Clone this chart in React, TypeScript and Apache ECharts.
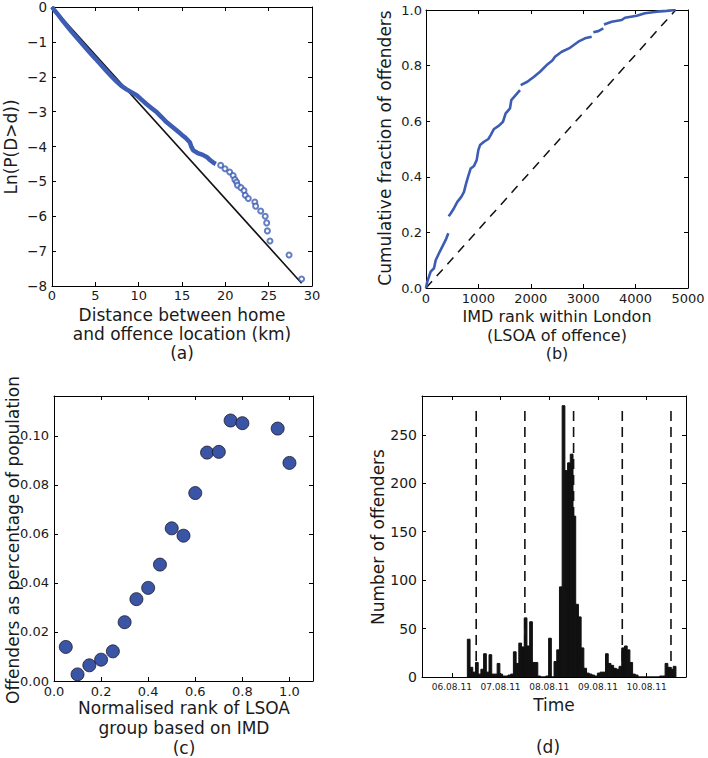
import React, { useEffect, useRef } from "react";
import * as echarts from "echarts";

// ---------- Panel (a): distance distribution ----------
const denseDistKm = [0, 0.3, 0.7, 1.1, 1.69, 2.3, 3.0, 3.6, 4.3, 5.0, 5.54, 6.2, 6.9, 7.46, 8.0, 8.6, 9.2, 9.77, 10.3, 10.9, 11.5, 12.1, 12.7, 13.2, 13.8, 14.4, 14.96, 15.4, 15.9, 16.1, 16.3, 16.9, 17.4, 17.85, 18.2, 18.6, 18.9];
const denseLnP = [0, -0.1, -0.22, -0.35, -0.53, -0.72, -0.92, -1.09, -1.29, -1.48, -1.63, -1.81, -2.0, -2.14, -2.26, -2.36, -2.45, -2.53, -2.65, -2.78, -2.9, -3.02, -3.17, -3.3, -3.42, -3.54, -3.66, -3.75, -3.88, -4.02, -4.11, -4.2, -4.24, -4.3, -4.38, -4.46, -4.5];
const tailDistKm = [19.46, 19.96, 20.5, 20.9, 21.1, 21.3, 21.4, 21.8, 22.15, 22.3, 22.65, 23.4, 23.5, 24.08, 24.6, 24.77, 24.85, 25.15, 27.35, 28.8];
const tailLnP = [-4.54, -4.64, -4.73, -4.83, -4.95, -5.02, -5.11, -5.18, -5.26, -5.4, -5.49, -5.59, -5.71, -5.85, -6.0, -6.19, -6.42, -6.71, -7.11, -7.8];
const fitKm = [0, 28.8];
const fitLnP = [0, -7.92];

// ---------- Panel (b): cumulative fraction vs IMD rank ----------
const imdRank = [0, 25, 57, 89, 153, 185, 248, 311, 376, 426,
  433, 471, 534, 598, 674, 725, 757, 802, 853, 916, 967, 999, 1031, 1107, 1190, 1234, 1298, 1393, 1469, 1520, 1603, 1628, 1711, 1794,
  1807, 1934, 2061, 2176, 2303, 2411, 2462, 2590, 2748, 2907, 3034, 3162,
  3193, 3288, 3384,
  3397, 3544, 3735, 3798, 4021, 4179, 4403, 4594, 4765];
const cumFrac = [0, 0.023, 0.041, 0.059, 0.071, 0.10, 0.125, 0.149, 0.173, 0.197,
  0.258, 0.268, 0.287, 0.31, 0.328, 0.346, 0.37, 0.40, 0.43, 0.439, 0.46, 0.496, 0.514, 0.526, 0.536, 0.55, 0.572, 0.584, 0.598, 0.628, 0.646, 0.676, 0.694, 0.712,
  0.730, 0.742, 0.760, 0.778, 0.802, 0.818, 0.832, 0.850, 0.864, 0.886, 0.898, 0.904,
  0.920, 0.924, 0.934,
  0.948, 0.958, 0.964, 0.972, 0.979, 0.988, 0.994, 0.997, 1.0];
const curveSegmentStarts = [433, 1807, 3193, 3397];
const totalLsoa = 4765;

// ---------- Panel (c): offenders vs normalised rank ----------
const rankGroup = [0.05, 0.10, 0.15, 0.20, 0.25, 0.30, 0.35, 0.40, 0.45, 0.50, 0.55, 0.60, 0.65, 0.70, 0.75, 0.80, 0.95, 1.00];
const offenderPct = [0.0139, 0.0027, 0.0064, 0.0087, 0.0121, 0.0240, 0.0334, 0.0380, 0.0475, 0.0623, 0.0593, 0.0767, 0.0932, 0.0935, 0.1063, 0.1052, 0.1030, 0.0890];

// ---------- Panel (d): offenders over time (hours since 06.08.11 00:00) ----------
const histStartHour = 19.65;
const histBinHours = 1.335;
const offenderCounts = [39, 10, 5, 15, 3, 8, 24, 5, 23, 3, 3, 14, 3, 1, 1, 2, 3, 26, 14, 35, 31, 61, 32, 57, 15, 15, 1, 0, 0, 1, 40, 0, 16, 28, 93, 280, 213, 221, 230, 166, 75, 62, 30, 9, 4, 3, 2, 1, 4, 5, 5, 24, 14, 12, 9, 8, 11, 30, 32, 28, 15, 3, 2, 0, 0, 0, 0, 0, 0, 0, 0, 1, 1, 14, 10, 8, 11];
const dayLabels = ["06.08.11", "07.08.11", "08.08.11", "09.08.11", "10.08.11"];
const dayLabelHours = [12, 36, 60, 84, 108];
const midnightHours = [24, 48, 72, 96, 120];
const midnightLineTop = 280;

const FONT = "DejaVu Sans";
const TXT = "#1a1a1a";
const BLUE = "#3d5db4";

const minus = (v: number, digits = 0) => {
  const s = Math.abs(v).toFixed(digits);
  return v < -1e-9 ? "\u2212" + s : s;
};

function axis(extra: any, labels: any) {
  return {
    type: "value",
    axisLine: { show: true, onZero: false, lineStyle: { color: "#000", width: 1 } },
    axisTick: { show: true, inside: true, length: 4, lineStyle: { color: "#000", width: 1 } },
    splitLine: { show: false },
    axisLabel: labels
      ? { show: true, color: TXT, fontSize: 13, fontFamily: FONT, ...labels }
      : { show: false },
    ...extra,
  };
}

export default function App() {
  const ref = useRef<HTMLDivElement>(null);
  useEffect(() => {
    if (!ref.current) return;
    const chart = echarts.init(ref.current, null, { renderer: "svg" });

    const grids = [
      { left: 52, top: 7, width: 260, height: 279 },
      { left: 426, top: 10, width: 262, height: 278 },
      { left: 54, top: 396, width: 259, height: 285 },
      { left: 422, top: 396, width: 264, height: 281 },
    ].map((g) => ({ ...g, outerBoundsMode: "none", containLabel: false }));

    const xA = { min: 0, max: 30, interval: 5 };
    const yA = { min: -8, max: 0, interval: 1 };
    const xB = { min: 0, max: 5000, interval: 1000 };
    const yB = { min: 0, max: 1, interval: 0.2 };
    const xC = { min: 0, max: 1.1, interval: 0.2 };
    const yC = { min: 0, max: 0.1163, interval: 0.02 };
    const xD = { min: -2.7, max: 127.4 };
    const yD = { min: 0, max: 290, interval: 50 };

    const dTick = { show: true, inside: true, length: 4, customValues: dayLabelHours, lineStyle: { color: "#000" } };

    const xAxis = [
      axis({ gridIndex: 0, position: "bottom", ...xA }, { margin: 3, fontSize: 13, formatter: (v: number) => minus(v) }),
      axis({ gridIndex: 0, position: "top", ...xA }, null),
      axis({ gridIndex: 1, position: "bottom", ...xB }, { margin: 4, fontSize: 13, formatter: (v: number) => String(Math.round(v)) }),
      axis({ gridIndex: 1, position: "top", ...xB }, null),
      axis({ gridIndex: 2, position: "bottom", ...xC }, { margin: 4, fontSize: 13, showMaxLabel: false, formatter: (v: number) => v.toFixed(1) }),
      axis({ gridIndex: 2, position: "top", ...xC }, null),
      axis(
        { gridIndex: 3, position: "bottom", ...xD, axisTick: dTick },
        { margin: 5, fontSize: 9, customValues: dayLabelHours, formatter: (v: number) => dayLabels[dayLabelHours.indexOf(Math.round(v))] || "" }
      ),
      axis({ gridIndex: 3, position: "top", ...xD, axisTick: dTick }, null),
    ];
    const yAxis = [
      axis({ gridIndex: 0, position: "left", ...yA }, { margin: 5, fontSize: 13.5, formatter: (v: number) => minus(v) }),
      axis({ gridIndex: 0, position: "right", ...yA }, null),
      axis({ gridIndex: 1, position: "left", ...yB }, { margin: 4, fontSize: 13, formatter: (v: number) => v.toFixed(1) }),
      axis({ gridIndex: 1, position: "right", ...yB }, null),
      axis({ gridIndex: 2, position: "left", ...yC }, { margin: 5, fontSize: 13, showMaxLabel: false, formatter: (v: number) => v.toFixed(2) }),
      axis({ gridIndex: 2, position: "right", ...yC }, null),
      axis({ gridIndex: 3, position: "left", ...yD }, { margin: 5, fontSize: 14, showMaxLabel: false, formatter: (v: number) => String(Math.round(v)) }),
      axis({ gridIndex: 3, position: "right", ...yD }, null),
    ];

    // Panel (b) curve split into segments at visible gaps
    const segs: number[][][] = [];
    let cur: number[][] = [];
    imdRank.forEach((r, i) => {
      if (curveSegmentStarts.includes(r) && cur.length) {
        segs.push(cur);
        cur = [];
      }
      cur.push([r, cumFrac[i]]);
    });
    if (cur.length) segs.push(cur);

    const series: any[] = [
      {
        type: "line", xAxisIndex: 0, yAxisIndex: 0, z: 2,
        data: fitKm.map((x, i) => [x, fitLnP[i]]),
        showSymbol: false, lineStyle: { color: "#111", width: 1.6 },
      },
      {
        type: "line", xAxisIndex: 0, yAxisIndex: 0, z: 3,
        data: denseDistKm.map((x, i) => [x, denseLnP[i]]),
        showSymbol: false, lineStyle: { color: BLUE, width: 4.5 },
      },
      {
        type: "scatter", xAxisIndex: 0, yAxisIndex: 0, z: 4,
        data: tailDistKm.map((x, i) => [x, tailLnP[i]]),
        symbol: "emptyCircle", symbolSize: 5,
        itemStyle: { color: BLUE, borderColor: BLUE, borderWidth: 1.6 },
      },
      {
        type: "line", xAxisIndex: 2, yAxisIndex: 2,
        data: [[0, 0], [totalLsoa, 1]],
        showSymbol: false, lineStyle: { color: "#111", width: 1.5, type: [9, 7] },
      },
      ...segs.map((s) => ({
        type: "line", xAxisIndex: 2, yAxisIndex: 2,
        data: s, showSymbol: false,
        lineStyle: { color: BLUE, width: 2.6 },
      })),
      {
        type: "scatter", xAxisIndex: 4, yAxisIndex: 4,
        data: rankGroup.map((x, i) => [x, offenderPct[i]]),
        symbolSize: 13,
        itemStyle: { color: "#3a55a6", borderColor: "#1a1a2a", borderWidth: 0.8, opacity: 1 },
      },
      {
        type: "custom", xAxisIndex: 6, yAxisIndex: 6, clip: true,
        data: offenderCounts.map((c, i) => [histStartHour + i * histBinHours, histStartHour + (i + 1) * histBinHours, c]),
        encode: { x: [0, 1], y: 2 },
        renderItem: (params: any, api: any) => {
          const p0 = api.coord([api.value(0), api.value(2)]);
          const p1 = api.coord([api.value(1), 0]);
          return {
            type: "rect",
            shape: { x: p0[0], y: p0[1], width: p1[0] - p0[0], height: p1[1] - p0[1] },
            style: { fill: "#111", stroke: "#111", lineWidth: 1 },
          };
        },
      },
      ...midnightHours.map((h) => ({
        type: "line", xAxisIndex: 6, yAxisIndex: 6, z: 5,
        data: [[h, 0], [h, midnightLineTop]],
        showSymbol: false, lineStyle: { color: "#111", width: 1.6, type: [10, 6] },
      })),
    ];

    const t = (text: string, x: number, y: number, size = 17, rot = 0) => ({
      type: "text", x, y, rotation: rot, silent: true,
      style: {
        text, fill: TXT, fontSize: size, fontFamily: FONT,
        align: "center", verticalAlign: "middle",
        textAlign: "center", textVerticalAlign: "middle",
      },
    });

    chart.setOption({
      animation: false,
      backgroundColor: "#fff",
      grid: grids,
      xAxis,
      yAxis,
      series,
      graphic: [
        t("Ln(P(D>d))", 11, 147, 17, Math.PI / 2),
        t("Distance between home", 182, 314.5),
        t("and offence location (km)", 182, 333.5),
        t("(a)", 182, 352.5),
        t("Cumulative fraction of offenders", 385, 148, 17, Math.PI / 2),
        t("IMD rank within London", 557, 316.5, 16),
        t("(LSOA of offence)", 557, 335, 16),
        t("(b)", 557, 353.5, 16),
        t("Offenders as percentage of population", 13, 540, 17, Math.PI / 2),
        t("Normalised rank of LSOA", 184, 708),
        t("group based on IMD", 184, 728),
        t("(c)", 184, 748),
        t("Number of offenders", 378, 537, 17, Math.PI / 2),
        t("Time", 554, 705),
        t("(d)", 548, 747),
      ],
    });
    return () => chart.dispose();
  }, []);

  return <div ref={ref} style={{ position: "absolute", left: 0, top: 0, width: 708, height: 758 }} />;
}
